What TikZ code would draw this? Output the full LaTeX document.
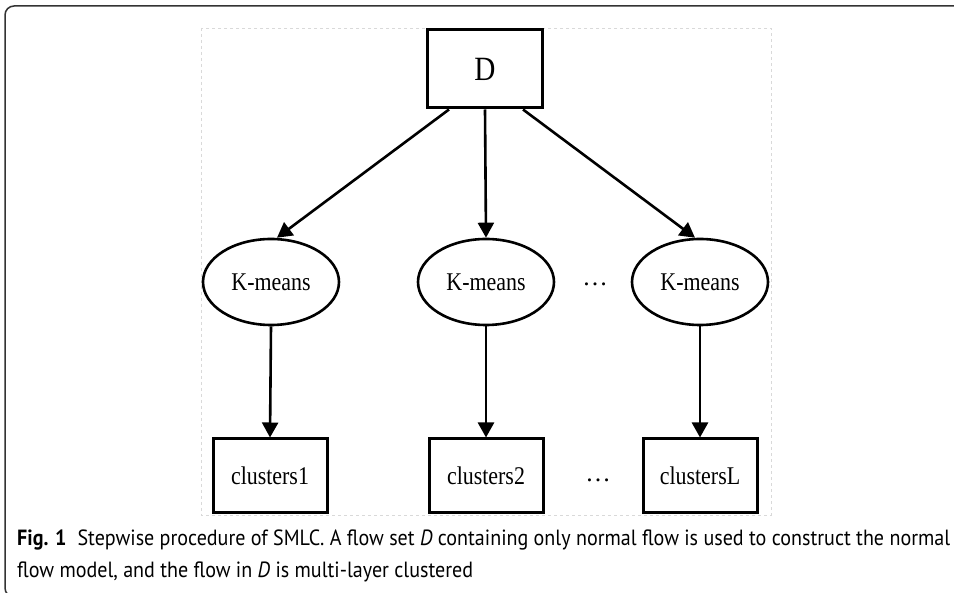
\documentclass[tikz,border=0pt]{standalone}
\usepackage{fontspec}
\setmainfont{Liberation Serif}
\newfontfamily\capfont{PT Sans}
\usetikzlibrary{arrows.meta,shapes.geometric}
\newsavebox\capboxA
\newcommand\capsize{\fontsize{22}{26}\selectfont}
\newcommand\narrowtext[1]{\scalebox{0.86}[1]{#1}}
\begin{document}
\sbox\capboxA{\capfont\capsize\textbf{Fig. 1}\hspace{12pt}Stepwise procedure of SMLC. A flow set \textit{D} containing only normal flow is used to construct the normal}%
\pgfmathsetmacro\capf{933/\the\wd\capboxA}%
\begin{tikzpicture}[x=1pt,y=-1pt,
  nodefont/.style={font=\fontsize{25.5}{28}\selectfont},
  bigfont/.style={font=\fontsize{34}{36}\selectfont},
  box/.style={draw,line width=3pt,minimum width=114pt,minimum height=74pt,inner sep=0pt,nodefont},
  oval/.style={draw,ellipse,line width=2.6pt,minimum width=136pt,minimum height=86pt,inner sep=0pt,nodefont},
  arr/.style={line width=2.6pt,-{Triangle[width=16pt,length=15pt]}},
  dotsnode/.style={nodefont,inner sep=0pt},
  capnode/.style={anchor=base west,inner sep=0pt}
]
\useasboundingbox (0,0) rectangle (954,593);
\clip (0,0) rectangle (954,593);
\draw[line width=1.5pt, draw=black!80, rounded corners=9pt] (960,6) -- (5,6) -- (5,597) -- (960,597);
\draw[black!15, dashed, line width=0.6pt] (201,28) rectangle (771,515);

\node[box,bigfont,minimum width=115pt,minimum height=78pt] (D) at (485,69) {\narrowtext{D}};
\node[oval] (k1) at (271,282) {\narrowtext{K-means}};
\node[oval] (k2) at (486,282) {\narrowtext{K-means}};
\node[oval] (k3) at (700,282) {\narrowtext{K-means}};
\node[box] (c1) at (270,476) {\narrowtext{clusters1}};
\node[box] (c2) at (486,476) {\narrowtext{clusters2}};
\node[box] (c3) at (700,476) {\narrowtext{clustersL}};
\node[dotsnode] (d1) at (595,284) {\dots};
\node[dotsnode] (d2) at (598,480) {\dots};

\draw[arr] ([xshift=23pt]D.south west) -- ([xshift=6pt]k1.north);
\draw[arr] (D.south) -- (k2.north);
\draw[arr] ([xshift=-21pt]D.south east) -- ([xshift=-5pt]k3.north);
\draw[arr] (k1.south) -- (c1.north);
\draw[arr] (k2.south) -- (c2.north);
\draw[arr] (k3.south) -- (c3.north);

\node[capnode] (cap1) at (17,546) {\scalebox{\capf}[1]{\usebox\capboxA}};
\node[capnode] (cap2) at (17,577) {\scalebox{\capf}[1]{\capfont\capsize flow model, and the flow in \textit{D} is multi-layer clustered}};
\end{tikzpicture}
\end{document}
